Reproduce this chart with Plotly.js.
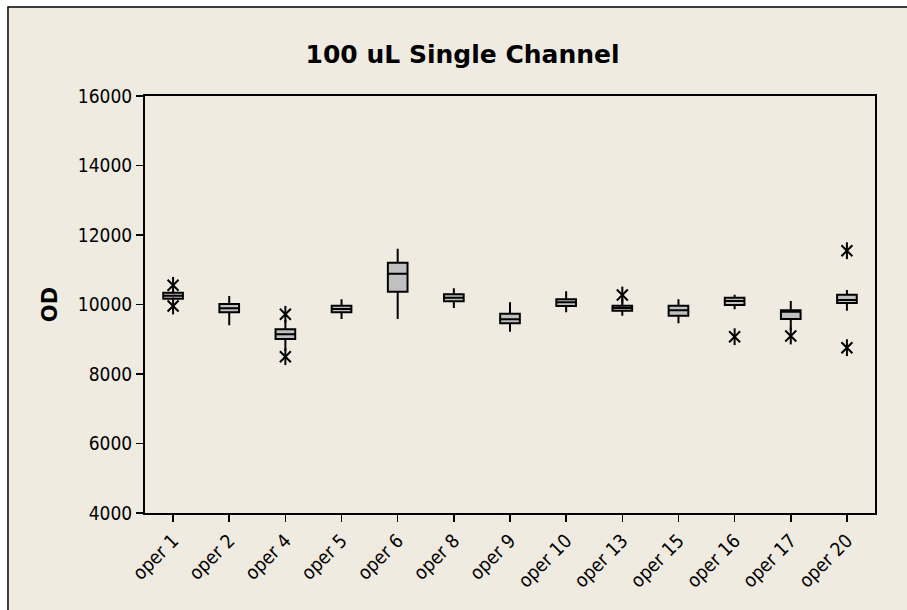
<!DOCTYPE html>
<html>
<head>
<meta charset="utf-8">
<script src="https://cdn.plot.ly/plotly-3.0.1.min.js"></script>
<style>html,body{margin:0;padding:0;background:#fff;}#chart{width:907px;height:610px;}</style>
</head>
<body>
<div id="chart"></div>
<script>
const categories = ['oper 1','oper 2','oper 4','oper 5','oper 6','oper 8','oper 9','oper 10','oper 13','oper 15','oper 16','oper 17','oper 20'];
const q1Values     = [10167, 9775, 9007, 9775, 10368, 10092, 9459, 9957, 9822, 9678, 9986, 9583, 10043];
const medianValues = [10253, 9890, 9142, 9871, 10886, 10196, 9574, 10063, 9899, 9833, 10101, 9793, 10129];
const q3Values     = [10340, 10014, 9286, 9965, 11203, 10293, 9735, 10150, 9965, 9965, 10196, 9833, 10282];
const lowerWhisker = [10080, 9401, 8671, 9583, 9583, 9899, 9217, 9775, 9678, 9459, 9862, 9266, 9822];
const upperWhisker = [10410, 10245, 9554, 10150, 11606, 10466, 10063, 10380, 10170, 10150, 10282, 10101, 10417];
const outlierCats = ['oper 1','oper 1','oper 4','oper 4','oper 13','oper 16','oper 17','oper 20','oper 20'];
const outlierVals = [10553, 9957, 9718, 8498, 10273, 9073, 9094, 11548, 8757];
const yTickVals = [4000, 6000, 8000, 10000, 12000, 14000, 16000];

const tickFont = {family: 'DejaVu Sans Condensed, DejaVu Sans, sans-serif', size: 19, color: '#000'};

const boxTrace = {
  type: 'box',
  x: categories,
  q1: q1Values,
  median: medianValues,
  q3: q3Values,
  lowerfence: lowerWhisker,
  upperfence: upperWhisker,
  boxpoints: false,
  width: 0.35,
  fillcolor: '#C0C0C0',
  line: {color: '#000', width: 2},
  whiskerwidth: 0,
  hoverinfo: 'skip',
  showlegend: false
};
const starX = {
  type: 'scatter', mode: 'markers', x: outlierCats, y: outlierVals,
  marker: {symbol: 'x-thin-open', size: 11, color: '#000', line: {color: '#000', width: 2}},
  hoverinfo: 'skip', showlegend: false
};
const starV = {
  type: 'scatter', mode: 'markers', x: outlierCats, y: outlierVals,
  marker: {symbol: 'line-ns-open', size: 12, color: '#000', line: {color: '#000', width: 2}},
  hoverinfo: 'skip', showlegend: false
};

const layout = {
  width: 907, height: 610,
  margin: {l: 145, r: 32, t: 96, b: 97},
  paper_bgcolor: '#ffffff',
  plot_bgcolor: '#ffffff',
  title: {
    text: '<b>100 uL Single Channel</b>',
    font: {family: 'DejaVu Sans, sans-serif', size: 25, color: '#000'},
    xref: 'container', x: 0.51, xanchor: 'center',
    yref: 'container', y: 0.911, yanchor: 'middle'
  },
  xaxis: {
    type: 'category',
    range: [-0.5, 12.5],
    showline: true, linecolor: '#000', linewidth: 2, mirror: true,
    ticks: 'outside', ticklen: 7, tickwidth: 1.5, tickcolor: '#000',
    tickangle: -45, tickfont: tickFont,
    showgrid: false, zeroline: false
  },
  yaxis: {
    range: [4000, 16000],
    tickvals: yTickVals,
    ticktext: yTickVals.map(String),
    showline: true, linecolor: '#000', linewidth: 2, mirror: true,
    ticks: 'outside', ticklen: 7, tickwidth: 1.5, tickcolor: '#000',
    tickfont: tickFont,
    showgrid: false, zeroline: false,
    title: {text: '<b>OD</b>', font: {family: 'DejaVu Sans, sans-serif', size: 21, color: '#000'}, standoff: 14}
  },
  shapes: [{
    type: 'rect', xref: 'paper', yref: 'paper', layer: 'below',
    x0: -0.1877, x1: 1.07, y0: -0.27, y1: 1.2134,
    fillcolor: '#EFEBE1', line: {color: '#000', width: 1.5}
  }]
};

Plotly.newPlot('chart', [boxTrace, starX, starV], layout, {displayModeBar: false, staticPlot: true});
</script>
</body>
</html>
